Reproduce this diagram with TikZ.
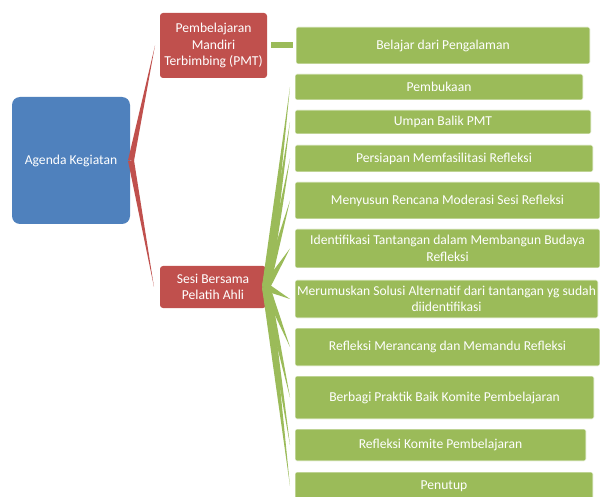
\documentclass[tikz,border=0pt]{standalone}
\usepackage{fontspec}
\setmainfont{Carlito}
\usetikzlibrary{calc}
\definecolor{cblue}{HTML}{4F81BD}
\definecolor{cred}{HTML}{C0504D}
\definecolor{cgreen}{HTML}{9BBB59}
\newcommand\taperline[4]{\fill[#4] ($(#1)!#3!90:(#2)$) -- (#2) -- ($(#1)!#3!-90:(#2)$) -- cycle;}
\tikzset{
  basebox/.style={inner sep=0pt, outer sep=0pt, align=center, text=white,
    font=\fontsize{13.6}{16.5}\selectfont},
  bluebox/.style={basebox, fill=cblue, rounded corners=8pt},
  redbox/.style={basebox, fill=cred, rounded corners=3pt},
  greenbox/.style={basebox, fill=cgreen, draw=white, line width=0.6pt, rounded corners=2pt},
}
\begin{document}
\begin{tikzpicture}[x=1pt,y=-1pt]
\useasboundingbox (0,0) rectangle (600,497);
\clip (0,0) rectangle (600,497);
\fill[white] (0,0) rectangle (600,497);

\node[bluebox, minimum width=118, minimum height=127] (root) at (71,160.5) {Agenda Kegiatan};
\node[redbox, minimum width=107, minimum height=65] (pmt) at (213.5,45.5) {Pembelajaran\\Mandiri\\Terbimbing (PMT)};
\node[redbox, minimum width=106, minimum height=42] (sesi) at (213,287) {Sesi Bersama\\Pelatih Ahli};

\node[greenbox, minimum width=294, minimum height=37] (b1) at (443,45.5) {Belajar dari Pengalaman};
\node[greenbox, minimum width=288, minimum height=26] (b2) at (439,87) {Pembukaan};
\node[greenbox, minimum width=296, minimum height=24] (b3) at (443,122) {Umpan Balik PMT};
\node[greenbox, minimum width=298, minimum height=27] (b4) at (444,158.5) {Persiapan Memfasilitasi Refleksi};
\node[greenbox, minimum width=305, minimum height=37] (b5) at (447.5,200.5) {Menyusun Rencana Moderasi Sesi Refleksi};
\node[greenbox, minimum width=305, minimum height=39] (b6) at (447.5,248.5) {Identifikasi Tantangan dalam Membangun Budaya\\Refleksi};
\node[greenbox, minimum width=303, minimum height=38] (b7) at (446.5,299) {Merumuskan Solusi Alternatif dari tantangan yg sudah\\diidentifikasi};
\node[greenbox, minimum width=305, minimum height=38] (b8) at (447.5,347) {Refleksi Merancang dan Memandu Refleksi};
\node[greenbox, minimum width=299, minimum height=43] (b9) at (444.5,397.5) {Berbagi Praktik Baik Komite Pembelajaran};
\node[greenbox, minimum width=291, minimum height=32] (b10) at (440.5,445) {Refleksi Komite Pembelajaran};
\node[greenbox, minimum width=298, minimum height=28] (b11) at (444,486) {Penutup};

% red tapered connectors
\coordinate (rr) at ($(root.east)+(1,0)$);
\coordinate (tp) at ($(pmt.west)+(-5,0)$);
\coordinate (ts) at ($(sesi.west)+(-6,0)$);
\taperline{rr}{tp}{3pt}{cred}
\taperline{rr}{ts}{3pt}{cred}

% PMT to first green box
\fill[cgreen] ($(pmt.east)+(4,-3)$) rectangle ($(b1.west)+(-3,3)$);

% green tapered connectors
\coordinate (gr) at (sesi.east);
\foreach \i in {2,...,11}{
  \coordinate (t\i) at ($(b\i.west)+(-5,0)$);
  \taperline{gr}{t\i}{4pt}{cgreen}
}
\end{tikzpicture}
\end{document}
